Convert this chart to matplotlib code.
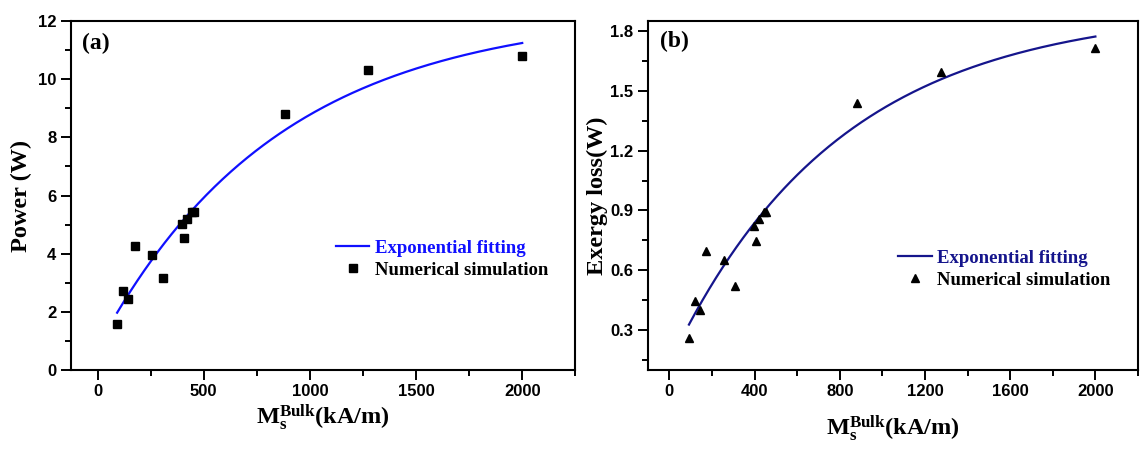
import numpy as np
import matplotlib
matplotlib.use('Agg')
import matplotlib.pyplot as plt
from matplotlib.ticker import MultipleLocator

# Bulk saturation magnetisation (kA/m), shared by both panels
ms_bulk = [92, 119, 144, 174, 256, 310, 397, 406, 423, 446, 455, 882, 1273, 2000]
power = [1.57, 2.71, 2.44, 4.27, 3.96, 3.16, 5.02, 4.54, 5.20, 5.43, 5.43, 8.81, 10.32, 10.79]
exergy = [0.258, 0.446, 0.40, 0.698, 0.651, 0.52, 0.823, 0.748, 0.857, 0.894, 0.894, 1.437, 1.594, 1.716]

# exponential fit y = A - B*exp(-x/t), parameters
fit_power = (12.35, 11.57, 850.0)
fit_exergy = (1.917, 1.785, 795.0)

plt.rcParams['font.family'] = 'Liberation Serif'
plt.rcParams['font.weight'] = 'bold'
plt.rcParams['axes.labelweight'] = 'bold'
plt.rcParams['mathtext.fontset'] = 'custom'
plt.rcParams['mathtext.rm'] = 'Liberation Serif:bold'
plt.rcParams['mathtext.bf'] = 'Liberation Serif:bold'
plt.rcParams['mathtext.it'] = 'Liberation Serif:bold'

xlabel = r'$\mathrm{M}_\mathrm{s}^\mathrm{Bulk}$(kA/m)'


def exp_curve(params, x):
    A, B, t = params
    return A - B * np.exp(-np.asarray(x) / t)


def style_axes(ax):
    for sp in ax.spines.values():
        sp.set_linewidth(1.5)
    ax.tick_params(which='both', direction='out', top=False, right=False, width=1.4)
    ax.tick_params(which='major', length=7)
    ax.tick_params(which='minor', length=4)
    for lab in ax.get_xticklabels() + ax.get_yticklabels():
        lab.set_fontfamily('Liberation Sans')
        lab.set_fontweight('bold')
        lab.set_fontsize(12)


fig = plt.figure(figsize=(11.46, 4.51), dpi=100)
ax1 = fig.add_axes([0.062, 0.180, 0.440, 0.773])
ax2 = fig.add_axes([0.5655, 0.180, 0.4275, 0.774])

# (a) Power
xs = np.linspace(ms_bulk[0], ms_bulk[-1], 300)
ax1.plot(xs, exp_curve(fit_power, xs), color='#1010ff', lw=1.6, label='Exponential fitting')
ax1.plot(ms_bulk, power, 's', color='black', ms=5.5, ls='none', label='Numerical simulation')
ax1.set_xlim(-125, 2250)
ax1.set_ylim(0, 12)
ax1.xaxis.set_major_locator(MultipleLocator(500))
ax1.xaxis.set_minor_locator(MultipleLocator(250))
ax1.yaxis.set_major_locator(MultipleLocator(2))
ax1.yaxis.set_minor_locator(MultipleLocator(1))
ax1.set_xlabel(xlabel, fontsize=17.5, fontweight='bold', labelpad=2)
ax1.set_ylabel('Power (W)', fontsize=17.5, fontweight='bold', labelpad=4)
ax1.text(0.021, 0.937, '(a)', transform=ax1.transAxes, fontsize=17, fontweight='bold',
         va='center', ha='left')
leg = ax1.legend(loc='upper left', bbox_to_anchor=(0.51, 0.395), frameon=False,
                 prop={'size': 13.5, 'weight': 'bold'},
                 handlelength=1.8, handletextpad=0.3, labelspacing=0.25, borderaxespad=0)
leg.get_texts()[0].set_color('#1010ff')
style_axes(ax1)

# (b) Exergy loss
ax2.plot(xs, exp_curve(fit_exergy, xs), color='#15158c', lw=1.6, label='Exponential fitting')
ax2.plot(ms_bulk, exergy, '^', color='black', ms=6, ls='none', label='Numerical simulation')
ax2.set_xlim(-100, 2200)
ax2.set_ylim(0.1, 1.852)
ax2.xaxis.set_major_locator(MultipleLocator(400))
ax2.xaxis.set_minor_locator(MultipleLocator(200))
ax2.yaxis.set_major_locator(MultipleLocator(0.3))
ax2.yaxis.set_minor_locator(MultipleLocator(0.15))
ax2.set_xlabel(xlabel, fontsize=17.5, fontweight='bold', labelpad=10)
ax2.set_ylabel('Exergy loss(W)', fontsize=17.5, fontweight='bold', labelpad=2)
ax2.text(0.025, 0.94, '(b)', transform=ax2.transAxes, fontsize=17, fontweight='bold',
         va='center', ha='left')
leg = ax2.legend(loc='upper left', bbox_to_anchor=(0.495, 0.365), frameon=False,
                 prop={'size': 13.5, 'weight': 'bold'},
                 handlelength=1.8, handletextpad=0.3, labelspacing=0.25, borderaxespad=0)
leg.get_texts()[0].set_color('#15158c')
style_axes(ax2)

fig.savefig('out.png', dpi=100)
